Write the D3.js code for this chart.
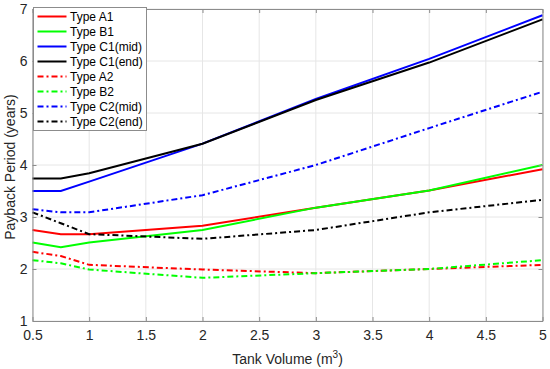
<!DOCTYPE html>
<html>
<head>
<meta charset="utf-8">
<script src="https://cdn.jsdelivr.net/npm/d3@7"></script>
<style>
  body { margin: 0; background: #fff; }
  text { font-family: "Liberation Sans", Arial, sans-serif; }
</style>
</head>
<body>
<div id="chart"></div>
<script>
// tank volumes (m3)
var volumes = [0.5, 0.75, 1, 2, 3, 4, 5];

// payback period (years) per type
var typeA1 = [2.75, 2.67, 2.67, 2.83, 3.18, 3.51, 3.92];
var typeB1 = [2.51, 2.42, 2.51, 2.75, 3.18, 3.51, 4.00];
var typeC1mid = [3.50, 3.50, 3.68, 4.41, 5.27, 6.04, 6.88];
var typeC1end = [3.74, 3.74, 3.84, 4.41, 5.25, 5.97, 6.80];
var typeA2 = [2.33, 2.25, 2.08, 1.99, 1.92, 2.00, 2.08];
var typeB2 = [2.17, 2.11, 1.99, 1.83, 1.92, 2.00, 2.17];
var typeC2mid = [3.15, 3.09, 3.09, 3.42, 4.00, 4.71, 5.41];
var typeC2end = [3.09, 2.88, 2.67, 2.58, 2.75, 3.09, 3.33];

var seriesNames = ["Type A1", "Type B1", "Type C1(mid)", "Type C1(end)",
                   "Type A2", "Type B2", "Type C2(mid)", "Type C2(end)"];

var xTicks = [0.5, 1, 1.5, 2, 2.5, 3, 3.5, 4, 4.5, 5];
var yTicks = [1, 2, 3, 4, 5, 6, 7];

var series = [
  {name: seriesNames[0], values: typeA1, color: "#ff0000", dash: null},
  {name: seriesNames[1], values: typeB1, color: "#00ff00", dash: null},
  {name: seriesNames[2], values: typeC1mid, color: "#0000ff", dash: null},
  {name: seriesNames[3], values: typeC1end, color: "#000000", dash: null},
  {name: seriesNames[4], values: typeA2, color: "#ff0000", dash: "6,3,2,3"},
  {name: seriesNames[5], values: typeB2, color: "#00ff00", dash: "6,3,2,3"},
  {name: seriesNames[6], values: typeC2mid, color: "#0000ff", dash: "6,3,2,3"},
  {name: seriesNames[7], values: typeC2end, color: "#000000", dash: "6,3,2,3"}
];

var width = 550, height = 369;
var margin = {left: 32.5, right: 7.5, top: 9, bottom: 48};
var plotW = width - margin.left - margin.right;
var plotH = height - margin.top - margin.bottom;

var svg = d3.select("#chart").append("svg")
  .attr("width", width)
  .attr("height", height);

var x = d3.scaleLinear().domain([0.5, 5]).range([0, plotW]);
var y = d3.scaleLinear().domain([1, 7]).range([plotH, 0]);

var g = svg.append("g")
  .attr("transform", "translate(" + margin.left + "," + margin.top + ")");

// grid
g.append("g").selectAll("line.gx")
  .data(xTicks).enter().append("line")
  .attr("x1", function(d){ return x(d); })
  .attr("x2", function(d){ return x(d); })
  .attr("y1", 0).attr("y2", plotH)
  .attr("stroke", "#e6e6e6").attr("stroke-width", 1);
g.append("g").selectAll("line.gy")
  .data(yTicks).enter().append("line")
  .attr("x1", 0).attr("x2", plotW)
  .attr("y1", function(d){ return y(d); })
  .attr("y2", function(d){ return y(d); })
  .attr("stroke", "#e6e6e6").attr("stroke-width", 1);

// lines
var line = d3.line()
  .x(function(d, i){ return x(volumes[i]); })
  .y(function(d){ return y(d); });

g.append("g").selectAll("path")
  .data(series).enter().append("path")
  .attr("d", function(s){ return line(s.values); })
  .attr("fill", "none")
  .attr("stroke", function(s){ return s.color; })
  .attr("stroke-width", 2)
  .attr("stroke-dasharray", function(s){ return s.dash; });

// axes (box with inward ticks, matlab style)
var axisColor = "#8c8c8c";
var tickLen = 4;

var xBottom = d3.axisBottom(x).tickValues(xTicks).tickSizeInner(-tickLen).tickSizeOuter(0)
  .tickPadding(9).tickFormat(d3.format("~g"));
var xTop = d3.axisTop(x).tickValues(xTicks).tickSizeInner(-tickLen).tickSizeOuter(0).tickFormat("");
var yLeft = d3.axisLeft(y).tickValues(yTicks).tickSizeInner(-tickLen).tickSizeOuter(0)
  .tickPadding(5).tickFormat(d3.format("d"));
var yRight = d3.axisRight(y).tickValues(yTicks).tickSizeInner(-tickLen).tickSizeOuter(0).tickFormat("");

var axes = [
  g.append("g").attr("transform", "translate(0," + plotH + ")").call(xBottom),
  g.append("g").call(xTop),
  g.append("g").call(yLeft),
  g.append("g").attr("transform", "translate(" + plotW + ",0)").call(yRight)
];
axes.forEach(function(a){
  a.select(".domain").attr("stroke", axisColor);
  a.selectAll(".tick line").attr("stroke", axisColor);
  a.selectAll(".tick text")
    .attr("fill", "#262626")
    .style("font-size", "14px")
    .style("font-family", "'Liberation Sans', Arial, sans-serif");
});

// axis labels
var xLabel = svg.append("text")
  .attr("x", margin.left + plotW / 2)
  .attr("y", 364)
  .attr("text-anchor", "middle")
  .attr("fill", "#262626")
  .style("font-size", "14px");
xLabel.append("tspan").text("Tank Volume (m");
xLabel.append("tspan").attr("dy", -6).style("font-size", "10px").text("3");
xLabel.append("tspan").attr("dy", 6).text(")");

svg.append("text")
  .attr("transform", "translate(15," + (margin.top + plotH / 2 + 2) + ") rotate(-90)")
  .attr("text-anchor", "middle")
  .attr("fill", "#262626")
  .style("font-size", "14px")
  .text("Payback Period (years)");

// legend
var legend = svg.append("g").attr("transform", "translate(33.5,7.5)");
legend.append("rect")
  .attr("width", 113).attr("height", 123)
  .attr("fill", "#fff").attr("stroke", "#8c8c8c").attr("stroke-width", 1);

var rowH = 15;
var items = legend.selectAll("g.item")
  .data(series).enter().append("g")
  .attr("transform", function(d, i){ return "translate(0," + (9 + i * rowH) + ")"; });
items.append("line")
  .attr("x1", 4).attr("x2", 33)
  .attr("y1", 0).attr("y2", 0)
  .attr("stroke", function(s){ return s.color; })
  .attr("stroke-width", 2)
  .attr("stroke-dasharray", function(s){ return s.dash; });
items.append("text")
  .attr("x", 36.5).attr("y", 4.5)
  .attr("fill", "#000")
  .style("font-size", "12px")
  .text(function(s){ return s.name; });
</script>
</body>
</html>
